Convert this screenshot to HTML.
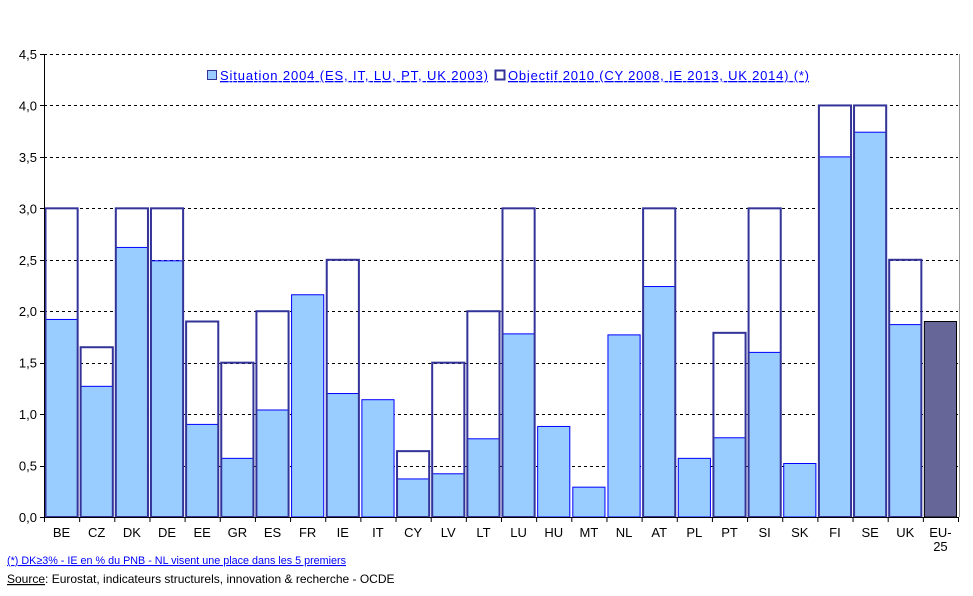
<!DOCTYPE html>
<html><head><meta charset="utf-8"><style>
body{margin:0;background:#fff;}
svg{display:block;font-family:"Liberation Sans",Arial,sans-serif;}
</style></head><body>
<svg id="chart" width="973" height="596" viewBox="0 0 973 596">
<g id="grid"></g>
<g id="bars"></g>
<g id="axes"></g>
<g font-size="13" fill="#0000ff">
  <rect x="207.5" y="70.5" width="9" height="9" fill="#99ccff" stroke="#333399"/>
  <text x="220" y="80" text-decoration="underline" textLength="268" lengthAdjust="spacing">Situation 2004 (ES, IT, LU, PT, UK 2003)</text>
  <rect x="495.5" y="70.5" width="9" height="9" fill="#fff" stroke="#333399" stroke-width="2"/>
  <text x="508" y="80" text-decoration="underline" textLength="301" lengthAdjust="spacing">Objectif 2010 (CY 2008, IE 2013, UK 2014) (*)</text>
</g>
<text x="7" y="564" font-size="11" fill="#0000ff" text-decoration="underline" textLength="339" lengthAdjust="spacingAndGlyphs">(*) DK≥3% - IE en % du PNB - NL visent une place dans les 5 premiers</text>
<text x="7" y="583" font-size="12" fill="#000"><tspan text-decoration="underline">Source</tspan>: Eurostat, indicateurs structurels, innovation &amp; recherche - OCDE</text>
</svg>
<script>
const categories=["BE","CZ","DK","DE","EE","GR","ES","FR","IE","IT","CY","LV","LT","LU","HU","MT","NL","AT","PL","PT","SI","SK","FI","SE","UK","EU-25"];
const situation=[1.92,1.27,2.62,2.49,0.90,0.57,1.04,2.16,1.20,1.14,0.37,0.42,0.76,1.78,0.88,0.29,1.77,2.24,0.57,0.77,1.60,0.52,3.50,3.74,1.87,1.90];
const objectif=[3.0,1.65,3.0,3.0,1.9,1.5,2.0,null,2.5,null,0.64,1.5,2.0,3.0,null,null,null,3.0,null,1.79,3.0,null,4.0,4.0,2.5,null];
const yTicks=[0,0.5,1,1.5,2,2.5,3,3.5,4,4.5];
const NS="http://www.w3.org/2000/svg";
const x0=44,x1=958,yBase=517,yTop=54,yMax=4.5;
const step=(x1-x0)/categories.length;
function y(v){return yBase-(v/yMax)*(yBase-yTop);}
function xs(i){return x0+i*step;}
function mk(tag,attrs,parent){const e=document.createElementNS(NS,tag);for(const k in attrs)e.setAttribute(k,attrs[k]);parent.appendChild(e);return e;}
const grid=document.getElementById('grid'),bars=document.getElementById('bars'),axes=document.getElementById('axes');
yTicks.forEach((t,i)=>{
  if(t>0){const l=mk('line',{x1:x0,x2:x1,y1:Math.round(y(t))+0.5,y2:Math.round(y(t))+0.5,stroke:'#000','stroke-dasharray':'3,3'},grid);
  
  }
  const tk=mk('line',{x1:x0-4,x2:x0,y1:Math.round(y(t))+0.5,y2:Math.round(y(t))+0.5,stroke:'#000'},axes);
  
  
  const tx=mk('text',{x:x0-7,y:y(t)+5,'text-anchor':'end','font-size':'13',fill:'#000'},axes);
  tx.textContent=t.toFixed(1).replace('.',',');
  
  
});
categories.forEach((c,i)=>{
  const bx=xs(i)+1.5,bw=step-3;
  const isEU=c==="EU-25";
  const s=mk('rect',{x:bx,y:y(situation[i]),width:bw,height:yBase-y(situation[i]),fill:isEU?'#666699':'#99ccff',stroke:isEU?'#000':'#0000ff','stroke-width':1},bars);
  
  
  if(objectif[i]!=null){
    const o=mk('rect',{x:bx,y:y(objectif[i]),width:bw,height:yBase-y(objectif[i]),fill:'none',stroke:'#333399','stroke-width':2},bars);
    
    
  }
  const tk=mk('line',{x1:xs(i)+0.5,x2:xs(i)+0.5,y1:yBase,y2:yBase+5,stroke:'#000'},axes);
  
  
  const cx=xs(i)+step/2;
  if(isEU){
    const t1=mk('text',{x:cx,y:yBase+20,'text-anchor':'middle','font-size':'13'},axes);t1.textContent='EU-';
    
    
    const t2=mk('text',{x:cx,y:yBase+34,'text-anchor':'middle','font-size':'13'},axes);t2.textContent='25';
    
    
  } else {
    const t=mk('text',{x:cx,y:yBase+20,'text-anchor':'middle','font-size':'13'},axes);t.textContent=c;
    
    
  }
});
const ya=mk('line',{x1:x0+0.5,x2:x0+0.5,y1:yTop,y2:yBase,stroke:'#000'},axes);


const xa=mk('line',{x1:x0,x2:x1+1,y1:yBase+0.5,y2:yBase+0.5,stroke:'#000'},axes);


const tkEnd=mk('line',{x1:x1+0.5,x2:x1+0.5,y1:yBase,y2:yBase+5,stroke:'#000'},axes);


const ra=mk('line',{x1:x1+1.5,x2:x1+1.5,y1:yTop,y2:yBase,stroke:'#999'},axes);


</script>
</body></html>
